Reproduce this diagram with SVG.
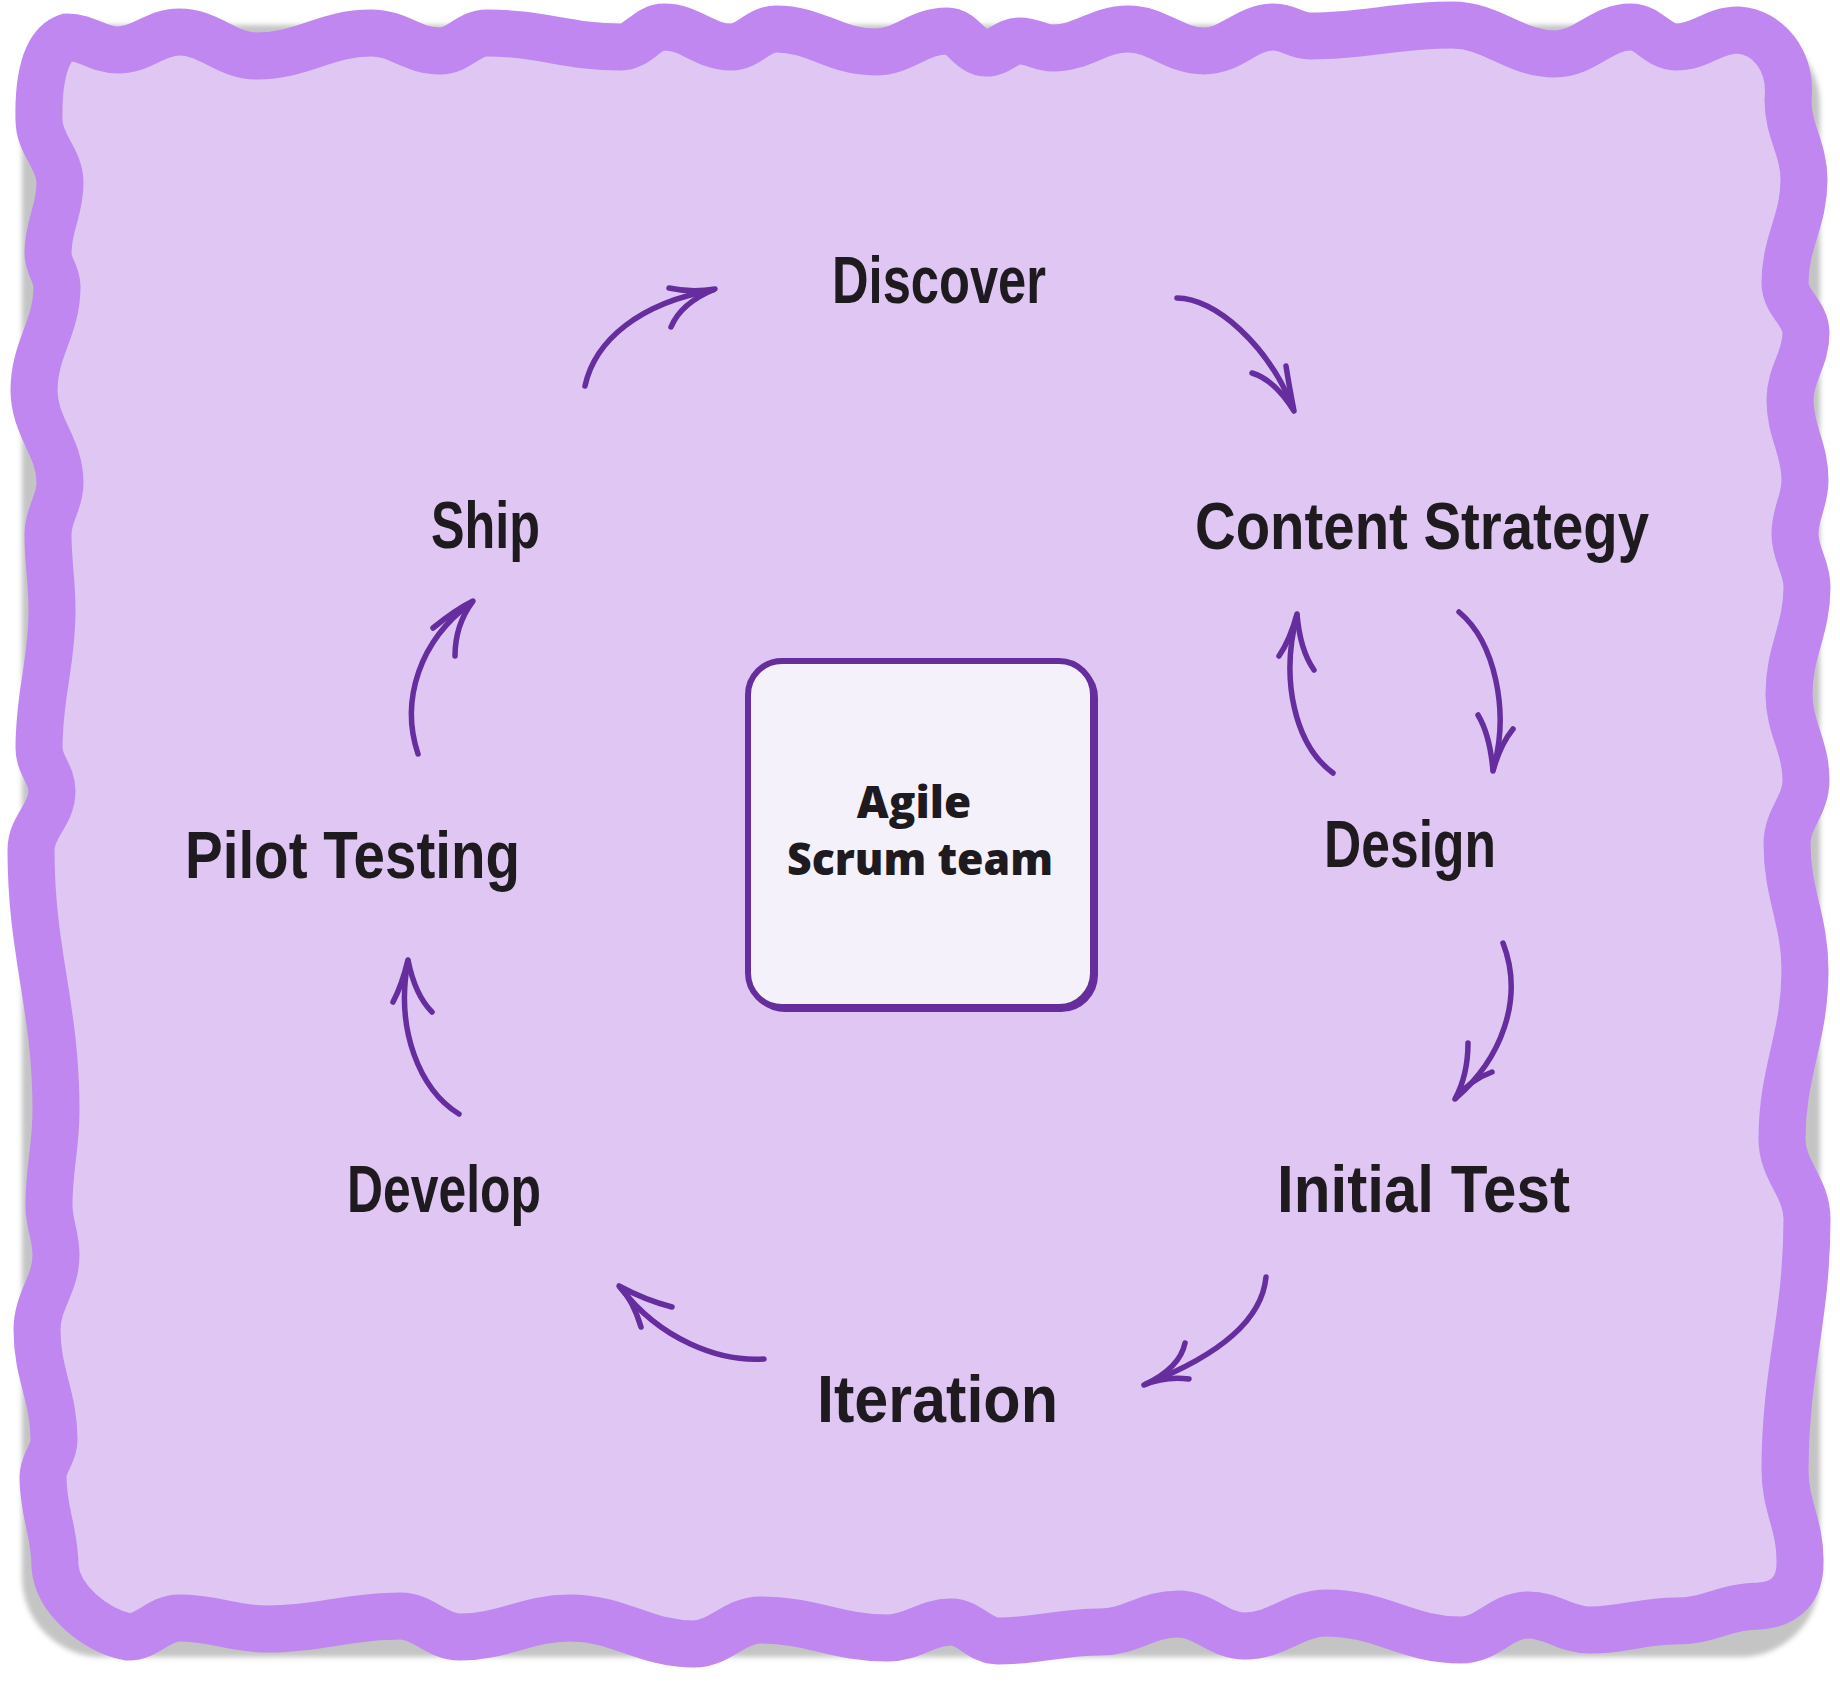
<svg xmlns="http://www.w3.org/2000/svg" width="1840" height="1681" viewBox="0 0 1840 1681">
<defs>
<style>
.lbl { font-family: "Liberation Sans", Arial, sans-serif; font-weight: 700; font-size: 66px; fill: #1E1A1F; }
.ctr { font-family: "Open Sans", "Liberation Sans", sans-serif; font-weight: 800; font-size: 44px; fill: #1E1A1F; text-anchor: middle; }
.arr { fill: none; stroke: #652D9E; stroke-width: 5.5; stroke-linecap: round; stroke-linejoin: round; }
.box { stroke: #662E9C; stroke-width: 6; }
</style>
<filter id="sh" x="-5%" y="-5%" width="110%" height="110%"><feGaussianBlur stdDeviation="2.5"/></filter>
</defs>
<rect width="1840" height="1681" fill="#FFFFFF"/>
<g id="frame">
<rect x="22" y="25" width="1798" height="1632" rx="80" fill="#C4C4C4" filter="url(#sh)"/>
<path fill="#DFC6F3" stroke="#BF87EF" stroke-width="47" stroke-linejoin="round" d="M67,37 C87,37 98,50 118,50 C142,50 155,32 179,32 C210,32 226,56 257,56 C303,56 325,33 371,33 C399,33 412,51 440,51 C459,51 468,33 487,33 C541,33 567,47 621,47 C638,47 647,27 664,27 C691,27 704,47 731,47 C749,47 758,29 776,29 C816,29 835,52 875,52 C904,52 918,31 947,31 C963,31 970,53 986,53 C1000,53 1006,41 1020,41 C1033,41 1040,48 1053,48 C1083,48 1098,29 1128,29 C1158,29 1174,51 1204,51 C1232,51 1246,27 1274,27 C1288,27 1296,36 1310,36 C1367,36 1395,25 1452,25 C1493,25 1514,54 1555,54 C1585,54 1601,27 1631,27 C1649,27 1658,47 1676,47 C1701,47 1713,30 1738,30 C1768,32 1792,60 1788,100 C1788,132 1804,148 1804,180 C1804,221 1785,242 1785,283 C1785,303 1806,313 1806,333 C1806,360 1790,373 1790,400 C1790,432 1805,448 1805,480 C1805,502 1795,512 1795,534 C1795,555 1807,566 1807,587 C1807,630 1789,651 1789,694 C1789,728 1806,746 1806,780 C1806,806 1787,818 1787,844 C1787,894 1805,920 1805,970 C1805,1038 1782,1071 1782,1139 C1782,1171 1807,1187 1807,1219 C1807,1319 1785,1370 1785,1470 C1785,1506 1800,1524 1800,1560 C1801,1590 1785,1604 1760,1606 C1726,1606 1710,1621 1676,1621 C1642,1621 1624,1630 1590,1630 C1565,1630 1553,1615 1528,1615 C1501,1615 1488,1640 1461,1640 C1407,1640 1381,1613 1327,1613 C1294,1613 1278,1636 1245,1636 C1218,1636 1205,1614 1178,1614 C1147,1614 1131,1632 1100,1632 C1059,1632 1039,1641 998,1641 C979,1641 970,1622 951,1622 C926,1622 913,1638 888,1638 C837,1638 811,1620 760,1620 C734,1620 720,1644 694,1644 C644,1644 620,1618 570,1618 C526,1618 504,1637 460,1637 C436,1637 424,1616 400,1616 C347,1616 321,1629 268,1629 C232,1629 215,1618 179,1618 C159,1618 148,1637 128,1637 C95,1630 58,1600 55,1567 C55,1531 43,1513 43,1477 C43,1462 54,1455 54,1440 C54,1396 37,1374 37,1330 C37,1300 56,1285 56,1255 C56,1235 49,1225 49,1205 C49,1167 56,1148 56,1110 C56,1006 31,954 31,850 C31,826 52,815 52,791 C52,774 39,765 39,748 C39,693 52,665 52,610 C52,580 48,564 48,534 C48,514 60,503 60,483 C60,446 34,427 34,390 C34,349 57,328 57,287 C57,273 48,267 48,253 C48,225 60,211 60,183 C60,158 39,145 39,120 C38,80 45,45 67,37 Z"/>
</g>
<g id="connectors">
<g id="arrow-ship-discover"><path class="arr" d="M585,386 C595,340 640,303 713,290"/><path class="arr" d="M669,288 Q692,293 715,289 Q681,303 671,327"/></g>
<g id="arrow-discover-content"><path class="arr" d="M1177,298 C1215,298 1268,345 1293,408"/><path class="arr" d="M1252,373 Q1275,380 1294,411 Q1289,385 1286,366"/></g>
<g id="arrow-content-design"><path class="arr" d="M1459,612 C1495,642 1510,712 1493,770"/><path class="arr" d="M1478,715 Q1490,735 1493,771 Q1500,745 1513,729"/></g>
<g id="arrow-design-content"><path class="arr" d="M1333,773 C1295,745 1280,680 1297,615"/><path class="arr" d="M1279,656 Q1290,640 1297,614 Q1300,650 1314,670"/></g>
<g id="arrow-design-initial"><path class="arr" d="M1503,943 C1525,1000 1500,1060 1456,1098"/><path class="arr" d="M1468,1043 Q1468,1075 1455,1099 Q1470,1080 1492,1072"/></g>
<g id="arrow-initial-iteration"><path class="arr" d="M1266,1277 C1262,1320 1220,1355 1146,1384"/><path class="arr" d="M1185,1343 Q1180,1368 1144,1385 Q1165,1376 1189,1379"/></g>
<g id="arrow-iteration-develop"><path class="arr" d="M764,1359 C720,1362 660,1340 620,1287"/><path class="arr" d="M672,1307 Q645,1300 619,1286 Q633,1300 641,1327"/></g>
<g id="arrow-develop-pilot"><path class="arr" d="M459,1114 C420,1090 395,1030 408,961"/><path class="arr" d="M393,1002 Q402,985 408,960 Q415,995 432,1012"/></g>
<g id="arrow-pilot-ship"><path class="arr" d="M418,754 C400,700 420,640 471,603"/><path class="arr" d="M433,628 Q455,610 473,601 Q455,625 455,656"/></g>
</g>
<g id="node-center">
<rect class="box" x="751" y="664" width="344" height="345" rx="34" fill="none"/>
<rect class="box" x="748" y="661" width="345" height="346" rx="34" fill="#F5F1FB"/>
<text class="ctr" x="914" y="818">Agile</text>
<text class="ctr" x="920" y="875" textLength="266" lengthAdjust="spacingAndGlyphs">Scrum team</text>
</g>
<g id="node-discover"><text class="lbl" x="832" y="303" textLength="214" lengthAdjust="spacingAndGlyphs">Discover</text></g>
<g id="node-content-strategy"><text class="lbl" x="1195" y="549" textLength="454" lengthAdjust="spacingAndGlyphs">Content Strategy</text></g>
<g id="node-design"><text class="lbl" x="1324" y="867" textLength="172" lengthAdjust="spacingAndGlyphs">Design</text></g>
<g id="node-initial-test"><text class="lbl" x="1277" y="1212" textLength="293" lengthAdjust="spacingAndGlyphs">Initial Test</text></g>
<g id="node-iteration"><text class="lbl" x="817" y="1422" textLength="241" lengthAdjust="spacingAndGlyphs">Iteration</text></g>
<g id="node-develop"><text class="lbl" x="347" y="1212" textLength="194" lengthAdjust="spacingAndGlyphs">Develop</text></g>
<g id="node-pilot-testing"><text class="lbl" x="185" y="878" textLength="335" lengthAdjust="spacingAndGlyphs">Pilot Testing</text></g>
<g id="node-ship"><text class="lbl" x="431" y="548" textLength="109" lengthAdjust="spacingAndGlyphs">Ship</text></g>
</svg>
